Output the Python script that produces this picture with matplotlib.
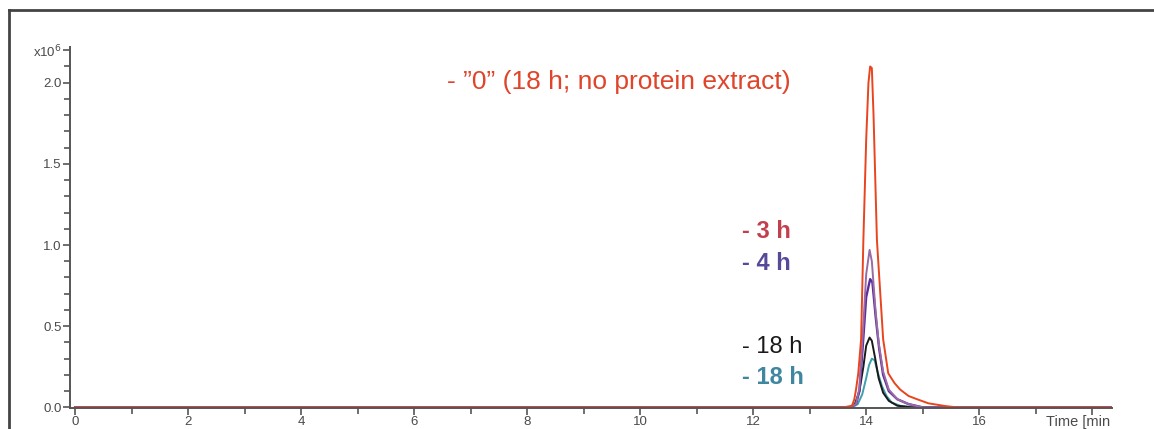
import matplotlib
matplotlib.use("Agg")
import matplotlib.pyplot as plt
from matplotlib.lines import Line2D
from matplotlib.ticker import MultipleLocator, FixedLocator
from matplotlib.transforms import Bbox

plt.rcParams['font.family'] = ['Liberation Sans', 'DejaVu Sans']

# ---- data (intensity in units of 1e6, time in min) ----
t_zero = [0, 13.6, 13.75, 13.79, 13.82, 13.86, 13.91, 13.95, 14.0, 14.04, 14.07, 14.1, 14.13,
          14.19, 14.3, 14.39, 14.5, 14.6, 14.75, 14.9, 15.1, 15.4, 15.6, 18.35]
v_zero = [0, 0, 0.01, 0.05, 0.11, 0.21, 0.42, 1.03, 1.65, 2.0, 2.10, 2.09, 1.8,
          1.03, 0.42, 0.21, 0.15, 0.11, 0.07, 0.05, 0.025, 0.008, 0, 0]

t_3h = [0, 13.7, 13.82, 13.88, 13.94, 14.0, 14.06, 14.1, 14.16, 14.22, 14.3, 14.4, 14.55, 14.75, 15.0, 18.35]
v_3h = [0, 0, 0.02, 0.12, 0.45, 0.82, 0.97, 0.9, 0.62, 0.4, 0.22, 0.11, 0.05, 0.02, 0, 0]

t_4h = [0, 13.7, 13.82, 13.88, 13.94, 14.0, 14.07, 14.11, 14.17, 14.23, 14.3, 14.4, 14.55, 14.75, 15.0, 18.35]
v_4h = [0, 0, 0.02, 0.1, 0.38, 0.68, 0.79, 0.77, 0.55, 0.36, 0.2, 0.1, 0.05, 0.02, 0, 0]

t_18a = [0, 13.7, 13.8, 13.88, 13.95, 14.0, 14.06, 14.1, 14.16, 14.22, 14.3, 14.4, 14.55, 14.8, 18.35]
v_18a = [0, 0, 0.02, 0.1, 0.25, 0.38, 0.43, 0.41, 0.3, 0.18, 0.09, 0.04, 0.01, 0, 0]

t_18b = [0, 13.75, 13.85, 13.93, 14.0, 14.05, 14.1, 14.15, 14.2, 14.28, 14.36, 14.45, 14.6, 14.85, 18.35]
v_18b = [0, 0, 0.02, 0.08, 0.18, 0.26, 0.30, 0.29, 0.22, 0.13, 0.07, 0.03, 0.01, 0, 0]

x_major = [0, 2, 4, 6, 8, 10, 12, 14, 16, 18]
x_labels = ['0', '2', '4', '6', '8', '10', '12', '14', '16', '']
y_major = [0.0, 0.5, 1.0, 1.5, 2.0, 2.2]
y_labels = ['0.0', '0.5', '1.0', '1.5', '2.0', 'x10$^6$']

W, H = 1154, 429
fig = plt.figure(figsize=(W / 100, H / 100), dpi=100)
ax = fig.add_axes([70 / W, 21 / H, (1112 - 70) / W, (382 - 21) / H])

ax.plot(t_18b, v_18b, color='#3e9fae', lw=1.4)
ax.plot(t_18a, v_18a, color='#1a1a1a', lw=1.4)
ax.plot(t_4h, v_4h, color='#5a2d9c', lw=1.7)
ax.plot(t_3h, v_3h, color='#9a6aa6', lw=1.4)
ax.plot(t_zero, v_zero, color='#e8441e', lw=1.4)

ax.set_xlim(-0.09, 18.35)
ax.set_ylim(-0.004, 2.22)

for s in ['top', 'right']:
    ax.spines[s].set_visible(False)
for s in ['left', 'bottom']:
    ax.spines[s].set_color('#555555')
    ax.spines[s].set_linewidth(1.4)

ax.xaxis.set_major_locator(FixedLocator(x_major))
ax.set_xticklabels(x_labels)
ax.xaxis.set_minor_locator(MultipleLocator(1))
ax.yaxis.set_major_locator(FixedLocator(y_major))
ax.set_yticklabels(y_labels)
ax.yaxis.set_minor_locator(MultipleLocator(0.1))
ax.tick_params(axis='both', which='both', direction='out', color='#555555', width=1.2,
               labelcolor='#4a4a4a', labelsize=9.5)
ax.tick_params(axis='both', which='major', length=5, pad=1)
ax.tick_params(axis='both', which='minor', length=4)

tx = ax.text(1046, 14, 'Time [min]', transform=None, fontsize=10.5, color='#4a4a4a',
             ha='left', va='top')
tx.set_clip_box(Bbox([[0, 0], [1110, 30]]))
tx.set_clip_on(True)

# annotations
ax.text(447, H - 82, '- \u201d0\u201d (18 h; no protein extract)', transform=None,
        fontsize=19, color='#e0442a', ha='left', va='center')
ax.text(742, H - 231, '- 3 h', transform=None, fontsize=17, color='#c2404e',
        ha='left', va='center', fontweight='bold')
ax.text(742, H - 263, '- 4 h', transform=None, fontsize=17, color='#574a98',
        ha='left', va='center', fontweight='bold')
ax.text(742, H - 347, '- 18 h', transform=None, fontsize=17, color='#1a1a1a',
        ha='left', va='center')
ax.text(742, H - 377, '- 18 h', transform=None, fontsize=17, color='#3f86a0',
        ha='left', va='center', fontweight='bold')

# outer frame (top and left edges visible)
fig.add_artist(Line2D([9 / W, 1.0], [1 - 10 / H, 1 - 10 / H], color='#444444', lw=2))
fig.add_artist(Line2D([9 / W, 9 / W], [0, 1 - 10 / H], color='#444444', lw=2))

fig.savefig('out.png', dpi=100)
